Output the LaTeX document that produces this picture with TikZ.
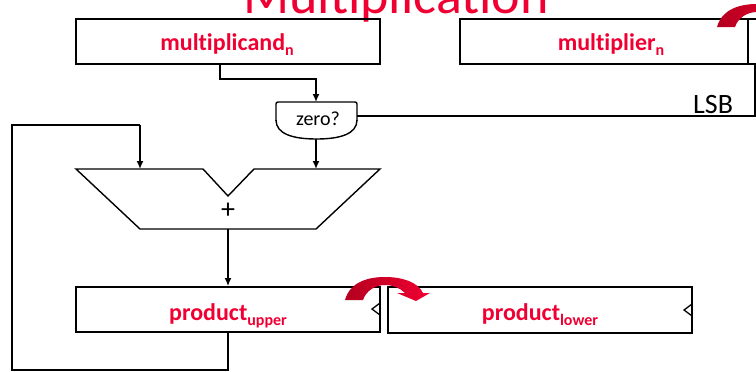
\documentclass[tikz,border=0pt]{standalone}
\usepackage{fontspec}
\setmainfont{Carlito}[Ligatures={NoCommon}]
\usetikzlibrary{arrows.meta}
\definecolor{mred}{RGB}{240,0,50}
\definecolor{dred}{RGB}{180,0,30}
\newcommand{\regsub}[1]{\raisebox{-5pt}{\fontsize{16}{16}\selectfont #1}}
\begin{document}
\begin{tikzpicture}[x=1pt,y=-1pt,
  regbox/.style={draw, line width=1.8pt, inner sep=0pt},
  conn/.style={line width=1.5pt},
  arr/.style={conn,-{Latex[length=8pt,width=7pt]}},
  lbl/.style={anchor=base, text=mred, font=\fontsize{24}{24}\selectfont\bfseries, inner sep=0pt},
  redarc/.pic={\shade[left color=dred,right color=mred]
     (345,300) .. controls (350,282) and (368,277) .. (385,277)
     .. controls (402,277) and (418,282) .. (423,293) -- (430,293) -- (416,301) -- (397,293) -- (405,293)
     .. controls (400,288) and (393,285) .. (385,285)
     .. controls (375,285) and (366,291) .. (363,300) -- cycle;}
]
\useasboundingbox (0,0) rectangle (756,372);
\clip (0,0) rectangle (756,372);

% title
\node[anchor=base west, inner sep=0pt, text=mred, font=\fontsize{54}{54}\selectfont] (title) at (243,13) {Multiplication};

% registers
\node[regbox, minimum width=304pt, minimum height=45pt] (mcand) at (228,41.5) {};
\node[lbl] (mcandtxt) at (227,50) {multiplicand\regsub{n}};
\node[regbox, minimum width=288pt, minimum height=45pt] (mplier) at (604,41.5) {};
\node[lbl] (mpliertxt) at (611,50) {multiplier\regsub{n}};
\node[regbox, minimum width=52pt, minimum height=45pt] (nextreg) at (774,41.5) {};

\node[regbox, minimum width=304pt, minimum height=45pt] (pu) at (228,309.5) {};
\node[lbl] (putxt) at (228,320) {product\regsub{upper}};
\node[regbox, minimum width=304pt, minimum height=46pt] (pl) at (540,310) {};
\node[lbl] (pltxt) at (540,320) {product\regsub{lower}};

% clock marks
\draw[line width=1.3pt] (380,303) -- (372,309) -- (380,315);
\draw[line width=1.3pt] (692,304) -- (684,310) -- (692,316);

% zero? unit
\draw[line width=1.4pt, rounded corners=2pt] (276,121) -- (276,102) -- (357,102) -- (357,121);
\draw[line width=1.4pt] (357,120) 
  .. controls (357,134) and (340,139) .. (316.5,139)
  .. controls (293,139) and (276,134) .. (276,120);
\node[font=\fontsize{20}{20}\selectfont, inner sep=0pt] (zero) at (318,119) {zero?};
\coordinate (zerotop) at (316,102);
\coordinate (zerobot) at (316,139);
\coordinate (zeroright) at (357,116);

% adder
\draw[line width=1.4pt] (76,169) -- (203,169) -- (228,196) -- (254,169) -- (380,169)
  -- (316,229) -- (140,229) -- cycle;
\node[font=\fontsize{28}{28}\selectfont, inner sep=0pt] (adder) at (228,211) {+};
\coordinate (addinL) at (140,169);
\coordinate (addinR) at (316,169);
\coordinate (addout) at (228,229);

% connectors
\coordinate (mcandout) at (220,64);
\coordinate (bendA) at (220,79);
\draw[arr] (mcandout) -- (bendA) -| (zerotop);
\draw[arr] (zerobot) -- (addinR);
\draw[arr] (addout) -- (pu.north);
\coordinate (loopBL) at (12,370);
\coordinate (loopTL) at (12,125);
\coordinate (loopTR) at (140,125);
\draw[conn] (pu.south) |- (loopBL) -- (loopTL) -- (loopTR);
\draw[arr] (loopTR) -- (addinL);
\coordinate (lsbcorner) at (755,116);
\coordinate (lsbtop) at (755,64);
\draw[conn] (zeroright) -- (lsbcorner) -- (lsbtop);
\node[anchor=base west, inner sep=0pt, font=\fontsize{28}{28}\selectfont] (lsb) at (693,113) {LSB};

% red shift arrows
\pic at (0,0) {redarc};
\pic at (372,-273) {redarc};
\end{tikzpicture}
\end{document}
